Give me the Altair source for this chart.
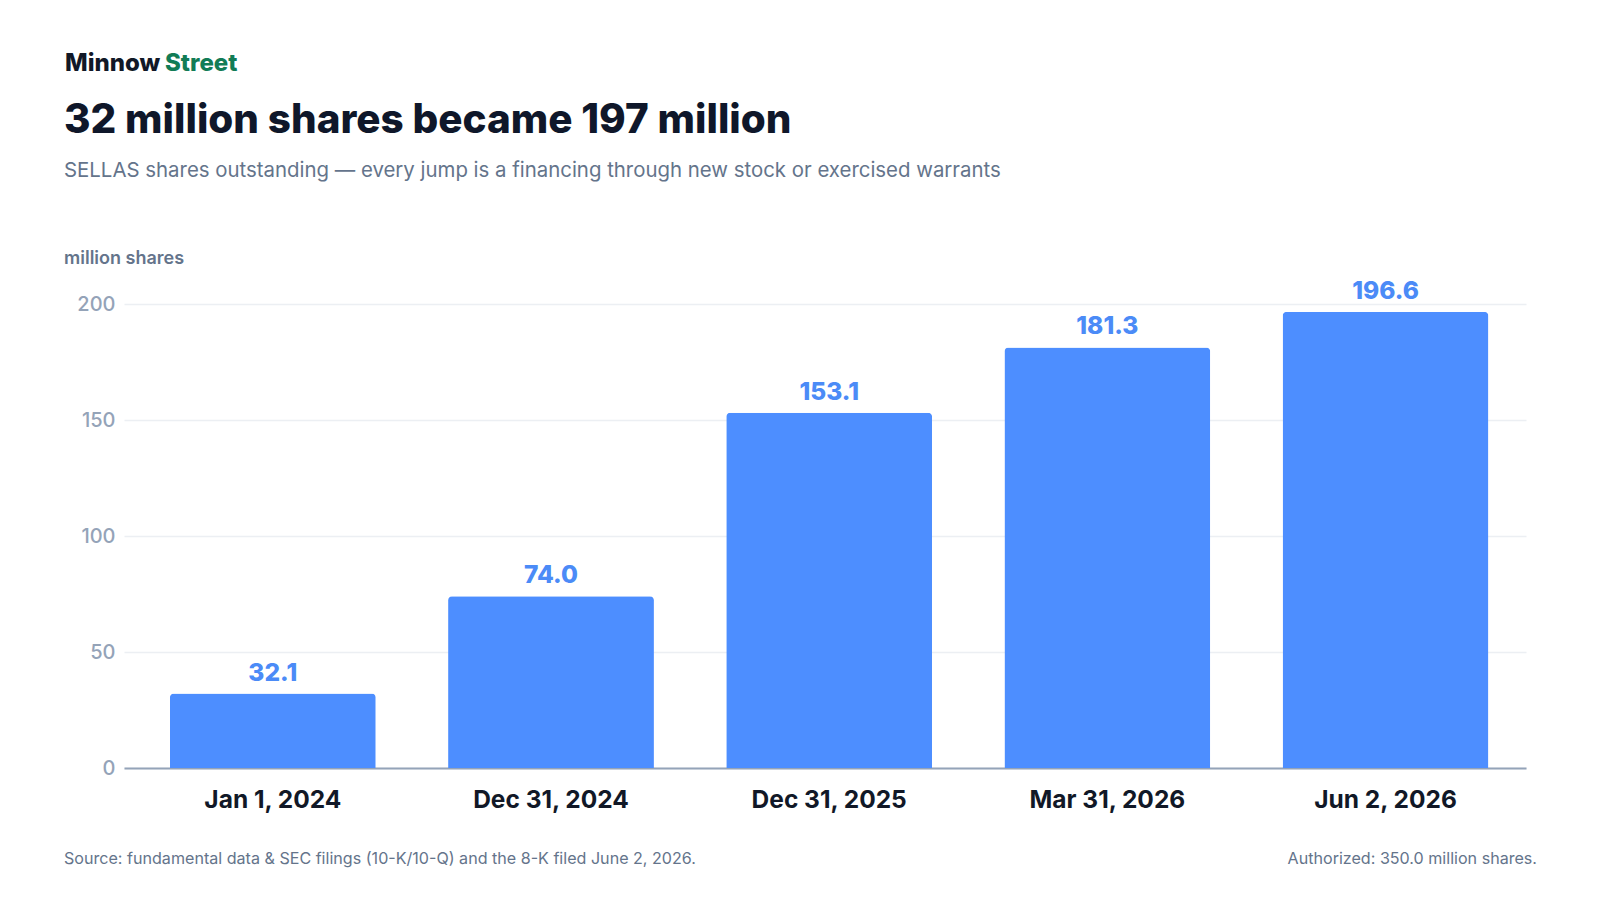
import altair as alt
import pandas as pd

dates = ["Jan 1, 2024", "Dec 31, 2024", "Dec 31, 2025", "Mar 31, 2026", "Jun 2, 2026"]
shares = [32.1, 74.0, 153.1, 181.3, 196.6]
y_ticks = [0, 50, 100, 150, 200]

brand_a = "Minnow"
brand_b = "Street"
title = "32 million shares became 197 million"
subtitle = "SELLAS shares outstanding \u2014 every jump is a financing through new stock or exercised warrants"
y_label = "million shares"
source = "Source: fundamental data & SEC filings (10-K/10-Q) and the 8-K filed June 2, 2026."
authorized = "Authorized: 350.0 million shares."

FONT = "Inter"
BAR = "#4d8eff"

df = pd.DataFrame({"date": dates, "shares": shares})
df["label"] = [f"{v:.1f}" for v in shares]

x = alt.X("date:N", sort=dates, title=None,
          scale=alt.Scale(paddingInner=0.26, paddingOuter=0.15, align=0.55),
          axis=alt.Axis(labelAngle=0, labelFontSize=24.5, labelFontWeight=700,
                        labelColor="#111827", labelFont=FONT, labelPadding=20,
                        ticks=False, domain=True, domainColor="#94a3b8",
                        domainWidth=2, grid=False))
y = alt.Y("shares:Q", title=None,
          scale=alt.Scale(domain=[0, 200], nice=False),
          axis=alt.Axis(values=y_ticks, labelFontSize=20, labelFontWeight=500,
                        labelColor="#94a3b8",
                        labelFont=FONT, labelPadding=9, ticks=False, domain=False,
                        grid=True, gridColor="#eceff3", gridWidth=1.5))

base = alt.Chart(df)
bars = base.mark_bar(color=BAR, cornerRadiusTopLeft=4, cornerRadiusTopRight=4).encode(x=x, y=y)
labels = base.mark_text(font=FONT, fontSize=24.5, fontWeight=800, color="#4b8bf7",
                        baseline="alphabetic", dy=-13).encode(
    x=alt.X("date:N", sort=dates), y="shares:Q", text="label:N")

one = pd.DataFrame({"k": [0]})

def txt(s, px, py, size, color, weight=400, align="left"):
    return alt.Chart(one).mark_text(text=s, font=FONT, fontSize=size, fontWeight=weight,
                                    color=color, align=align, baseline="alphabetic").encode(
        x=alt.value(px), y=alt.value(py))

texts = [
    txt(brand_a, -59, -233, 24, "#111827", 800),
    txt(brand_b, 41, -233, 24, "#127c56", 800),
    txt(title, -60, -171, 40.4, "#0f172a", 800),
    txt(subtitle, -60, -127, 20.4, "#64748b", 400),
    txt(y_label, -60, -40, 18, "#64748b", 600),
    txt(source, -60, 560, 16.1, "#64748b", 400),
    txt(authorized, 1413, 560, 16.1, "#64748b", 400, "right"),
]

chart = alt.layer(bars, labels, *texts).properties(
    width=1402, height=464,
    background="white",
    autosize=alt.AutoSizeParams(type="none"),
    padding={"left": 116, "top": 296, "right": 66, "bottom": 120},
).configure_view(strokeWidth=0, stroke="transparent")

chart.save("out.html", embed_options={"renderer": "svg", "actions": False})
